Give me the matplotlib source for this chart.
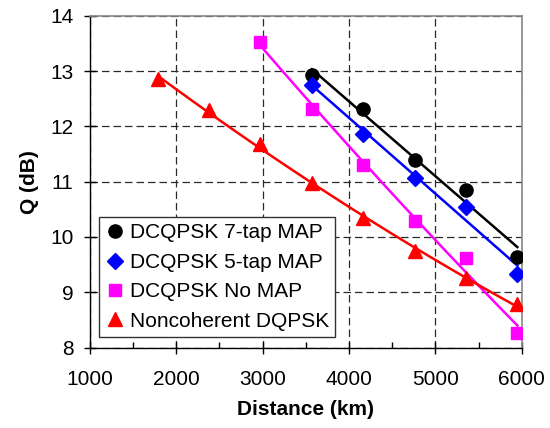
import numpy as np
import matplotlib
matplotlib.use("Agg")
import matplotlib.pyplot as plt

plt.rcParams['font.family'] = ['Liberation Sans', 'DejaVu Sans']

# distances (km) - spans of 595 km
dist_coh = [3570, 4165, 4760, 5355, 5950]
dist_nomap = [2975, 3570, 4165, 4760, 5355, 5950]
dist_nc = [1785, 2380, 2975, 3570, 4165, 4760, 5355, 5950]

# Q values (dB)
q_7tap = [12.93, 12.31, 11.39, 10.85, 9.64]
q_5tap = [12.75, 11.86, 11.07, 10.55, 9.33]
q_nomap = [13.53, 12.31, 11.30, 10.29, 9.61, 8.27]
q_nc = [12.85, 12.29, 11.68, 10.98, 10.34, 9.75, 9.25, 8.78]

labels = ["DCQPSK 7-tap MAP", "DCQPSK 5-tap MAP", "DCQPSK No MAP", "Noncoherent DQPSK"]

fig = plt.figure(figsize=(5.5, 4.28), dpi=100)
ax = fig.add_axes([0.1636, 0.188, 0.7849, 0.7753])

series = [
    (dist_coh, q_7tap, 'black', 'o', 9.5, 1),
    (dist_coh, q_5tap, 'blue', 'D', 8, 1),
    (dist_nomap, q_nomap, 'magenta', 's', 9, 2),
    (dist_nc, q_nc, 'red', '^', 9.5, 2),
]

for (x, y, col, mk, ms, deg), lab in zip(series, labels):
    ax.plot(x, y, linestyle='none', marker=mk, color=col, markersize=ms,
            label=lab, zorder=4)
    # trendline
    coef = np.polyfit(x, y, deg)
    xf = np.linspace(min(x), max(x), 60)
    ax.plot(xf, np.polyval(coef, xf), color=col, linewidth=1.8, zorder=3)

ax.set_xlim(1000, 6000)
ax.set_ylim(8, 14)
ax.set_xticks(range(1000, 6001, 1000))
ax.set_xticks(range(1500, 6000, 1000), minor=True)
ax.set_yticks(range(8, 15))

ax.grid(True, which='major', color='#2a2a2a', linestyle=(0, (6, 3.2)), linewidth=0.9, zorder=1)
ax.set_axisbelow(True)

for s in ['top', 'right']:
    ax.spines[s].set_color('#888888')
    ax.spines[s].set_linewidth(1.2)
for s in ['left', 'bottom']:
    ax.spines[s].set_color('black')
    ax.spines[s].set_linewidth(1.0)

ax.tick_params(axis='both', which='major', direction='inout', length=8, width=1,
               labelsize=15, pad=8)
ax.tick_params(axis='x', which='minor', direction='in', length=4, width=1)
ax.tick_params(axis='x', which='major', pad=12)

ax.set_xlabel("Distance (km)", fontsize=15, fontweight='bold', labelpad=8)
ax.set_ylabel("Q (dB)", fontsize=15, fontweight='bold', labelpad=8)

leg = ax.legend(loc='lower left', bbox_to_anchor=(0.02, 0.032), borderaxespad=0,
                fontsize=15, frameon=True, fancybox=False, handletextpad=0.2,
                handlelength=1.0, labelspacing=0.5, borderpad=0.3)
leg.get_frame().set_edgecolor('#333333')
leg.get_frame().set_linewidth(1.0)
leg.get_frame().set_alpha(1)

fig.savefig("out.png", dpi=100)
